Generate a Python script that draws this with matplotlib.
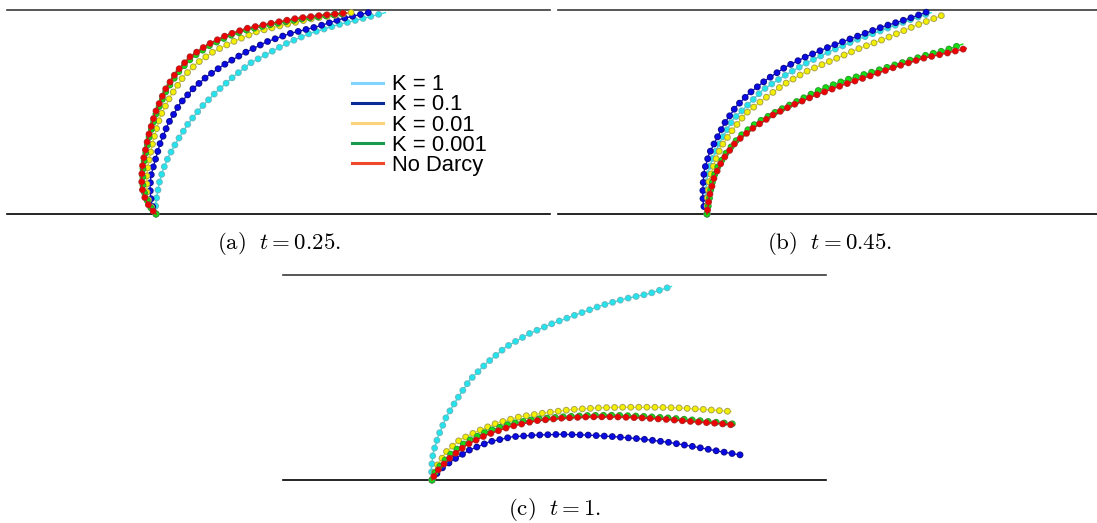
import matplotlib
matplotlib.use("Agg")
import matplotlib.pyplot as plt
from matplotlib.lines import Line2D

plt.rcParams['mathtext.fontset'] = 'cm'
plt.rcParams['lines.scale_dashes'] = False

# Legend labels and colours
labels = ['K = 1', 'K = 0.1', 'K = 0.01', 'K = 0.001', 'No Darcy']
legend_colors = ['#80d4ff', '#0a2a9a', '#f9d27a', '#179a4c', '#f0482a']
dot_fill = ['#22e4ec', '#0a0ae6', '#f2f000', '#12e012', '#f00000']
dot_edge = ['#6fb8c0', '#10108a', '#a8a050', '#2c9a2c', '#b02828']

# Panel (a), t = 0.25 (x, y in channel heights, anchor at origin)
a_k1_x = [0, -0.002, 0.005, 0.017, 0.034, 0.06, 0.101, 0.158, 0.224, 0.297, 0.379, 0.461, 0.551, 0.641, 0.755, 0.886, 1.016, 1.123]
a_k1_y = [0, 0.044, 0.093, 0.157, 0.216, 0.279, 0.354, 0.444, 0.526, 0.6, 0.673, 0.739, 0.788, 0.837, 0.886, 0.926, 0.959, 0.987]
a_k01_x = [0, -0.02, -0.027, -0.029, -0.025, -0.013, 0.02, 0.06, 0.118, 0.183, 0.248, 0.33, 0.428, 0.542, 0.657, 0.788, 0.918, 1.04]
a_k01_y = [0, 0.044, 0.093, 0.134, 0.186, 0.232, 0.346, 0.444, 0.542, 0.616, 0.673, 0.73, 0.787, 0.844, 0.885, 0.918, 0.959, 0.987]
a_k001_x = [0, -0.029, -0.044, -0.045, -0.045, -0.038, -0.013, 0.02, 0.069, 0.134, 0.2, 0.281, 0.379, 0.494, 0.624, 0.771, 0.886, 0.959]
a_k001_y = [0, 0.044, 0.093, 0.134, 0.191, 0.248, 0.363, 0.477, 0.575, 0.673, 0.739, 0.796, 0.845, 0.894, 0.926, 0.959, 0.975, 0.988]
a_k0001_x = [0, -0.025, -0.05, -0.063, -0.065, -0.064, -0.057, -0.033, 0.0, 0.05, 0.108, 0.175, 0.257, 0.355, 0.453, 0.567, 0.698, 0.826, 0.93]
a_k0001_y = [0, 0.03, 0.08, 0.13, 0.153, 0.218, 0.267, 0.38, 0.492, 0.605, 0.694, 0.766, 0.823, 0.872, 0.905, 0.929, 0.954, 0.971, 0.984]
a_nd_x = [0, -0.029, -0.054, -0.069, -0.07, -0.069, -0.062, -0.038, -0.005, 0.044, 0.101, 0.167, 0.249, 0.347, 0.445, 0.559, 0.69, 0.82, 0.935]
a_nd_y = [0, 0.029, 0.078, 0.127, 0.15, 0.216, 0.265, 0.379, 0.493, 0.608, 0.698, 0.771, 0.828, 0.877, 0.91, 0.934, 0.959, 0.975, 0.986]

# Panel (b), t = 0.45
b_k1_x = [0, -0.008, -0.003, 0.003, 0.027, 0.069, 0.125, 0.191, 0.273, 0.371, 0.485, 0.6, 0.73, 0.861, 0.992, 1.098]
b_k1_y = [0, 0.069, 0.142, 0.199, 0.273, 0.363, 0.461, 0.526, 0.608, 0.673, 0.739, 0.796, 0.853, 0.902, 0.951, 0.987]
b_k01_x = [0, -0.018, -0.021, -0.018, -0.013, 0.011, 0.044, 0.085, 0.142, 0.207, 0.289, 0.387, 0.485, 0.6, 0.73, 0.861, 0.992, 1.081]
b_k01_y = [0, 0.044, 0.101, 0.167, 0.216, 0.297, 0.363, 0.444, 0.526, 0.592, 0.657, 0.722, 0.771, 0.82, 0.869, 0.918, 0.959, 0.992]
b_k001_x = [0, 0.001, 0.011, 0.036, 0.069, 0.125, 0.191, 0.273, 0.371, 0.485, 0.616, 0.747, 0.877, 1.008, 1.155]
b_k001_y = [0, 0.069, 0.167, 0.249, 0.33, 0.412, 0.494, 0.559, 0.632, 0.698, 0.755, 0.812, 0.861, 0.918, 0.975]
b_k0001_x = [0, 0.011, 0.02, 0.044, 0.093, 0.158, 0.24, 0.338, 0.436, 0.55, 0.681, 0.812, 0.943, 1.074, 1.172, 1.253]
b_k0001_y = [0, 0.069, 0.134, 0.216, 0.298, 0.379, 0.445, 0.501, 0.55, 0.608, 0.657, 0.697, 0.738, 0.779, 0.804, 0.833]
b_nd_x = [0, 0.011, 0.036, 0.076, 0.142, 0.224, 0.322, 0.42, 0.534, 0.665, 0.796, 0.926, 1.057, 1.172, 1.27]
b_nd_y = [0, 0.085, 0.183, 0.265, 0.354, 0.42, 0.485, 0.534, 0.583, 0.632, 0.676, 0.722, 0.763, 0.788, 0.812]

# Panel (c), t = 1
c_k1_x = [0, -0.003, 0.005, 0.029, 0.07, 0.119, 0.184, 0.265, 0.362, 0.476, 0.589, 0.719, 0.832, 0.946, 1.06, 1.173]
c_k1_y = [0, 0.057, 0.13, 0.211, 0.308, 0.389, 0.487, 0.568, 0.649, 0.714, 0.763, 0.811, 0.852, 0.884, 0.908, 0.944]
c_k01_x = [0, 0.037, 0.102, 0.183, 0.281, 0.394, 0.508, 0.637, 0.767, 0.897, 1.027, 1.157, 1.287, 1.4, 1.513]
c_k01_y = [0, 0.049, 0.097, 0.146, 0.186, 0.211, 0.219, 0.223, 0.219, 0.211, 0.2, 0.184, 0.162, 0.141, 0.122]
c_k001_x = [0, 0.021, 0.07, 0.135, 0.216, 0.313, 0.427, 0.557, 0.686, 0.816, 0.946, 1.075, 1.205, 1.335, 1.465]
c_k001_y = [0, 0.065, 0.138, 0.195, 0.235, 0.276, 0.308, 0.328, 0.344, 0.352, 0.355, 0.355, 0.352, 0.344, 0.334]
c_k0001_x = [0, 0.021, 0.086, 0.167, 0.265, 0.378, 0.508, 0.637, 0.767, 0.897, 1.027, 1.157, 1.287, 1.4, 1.481]
c_k0001_y = [0, 0.049, 0.122, 0.186, 0.235, 0.273, 0.297, 0.308, 0.315, 0.316, 0.311, 0.303, 0.292, 0.281, 0.273]
c_nd_x = [0, 0.021, 0.086, 0.167, 0.265, 0.378, 0.508, 0.637, 0.767, 0.897, 1.027, 1.157, 1.287, 1.4, 1.481]
c_nd_y = [0, 0.04, 0.106, 0.17, 0.219, 0.259, 0.289, 0.302, 0.308, 0.308, 0.303, 0.295, 0.284, 0.276, 0.268]

captions = [r'$\mathrm{(a)}\ \ t = 0.25.$', r'$\mathrm{(b)}\ \ t = 0.45.$', r'$\mathrm{(c)}\ \ t = 1.$']

XLIM = (-0.73, 1.93)
DOT = 5.0      # dot diameter, pt
GAP = 5.8      # distance between dots, pt


def draw_filament(ax, x, y, i, offset=0.0):
    ax.plot(x, y, color=dot_fill[i], lw=1.0, clip_on=False, zorder=2 + i)
    dots = (offset, (0.01, GAP))
    ax.plot(x, y, color=dot_edge[i], lw=DOT, ls=dots, dash_capstyle='round',
            clip_on=False, zorder=2 + i)
    ax.plot(x, y, color=dot_fill[i], lw=DOT - 1.4, ls=dots, dash_capstyle='round',
            clip_on=False, zorder=2 + i)


def draw_panel(ax, curves, caption):
    ax.set_xlim(*XLIM)
    ax.set_ylim(0, 1)
    ax.axis('off')
    ax.axhline(1, color='#3a3a3a', lw=1.2, clip_on=False)
    ax.axhline(0, color='black', lw=1.2, clip_on=False)
    for i, (x, y) in enumerate(curves):
        draw_filament(ax, x, y, i, offset=GAP / 2 if i == 4 else 0.0)
    ax.text(0.5, -0.145, caption, transform=ax.transAxes, ha='center', va='center',
            fontsize=16.5)


W, H = 1097, 523
fig = plt.figure(figsize=(W / 100, H / 100), dpi=100)
ax_a = fig.add_axes([7 / W, (H - 214) / H, 543 / W, 204 / H])
ax_b = fig.add_axes([558 / W, (H - 214) / H, 543 / W, 204 / H])
ax_c = fig.add_axes([283 / W, (H - 480) / H, 543 / W, 205 / H])

draw_panel(ax_a, [(a_k1_x, a_k1_y), (a_k01_x, a_k01_y), (a_k001_x, a_k001_y),
                  (a_k0001_x, a_k0001_y), (a_nd_x, a_nd_y)], captions[0])
draw_panel(ax_b, [(b_k1_x, b_k1_y), (b_k01_x, b_k01_y), (b_k001_x, b_k001_y),
                  (b_k0001_x, b_k0001_y), (b_nd_x, b_nd_y)], captions[1])
draw_panel(ax_c, [(c_k1_x, c_k1_y), (c_k01_x, c_k01_y), (c_k001_x, c_k001_y),
                  (c_k0001_x, c_k0001_y), (c_nd_x, c_nd_y)], captions[2])

handles = [Line2D([], [], color=c, lw=2.2) for c in legend_colors]
ax_a.legend(handles, labels, loc='center left', bbox_to_anchor=(0.635, 0.436),
            frameon=False, prop={'family': 'Liberation Sans', 'size': 15.8},
            handlelength=1.4, handletextpad=0.42, labelspacing=-0.04,
            borderpad=0, borderaxespad=0)

fig.savefig('out.png', dpi=100)
